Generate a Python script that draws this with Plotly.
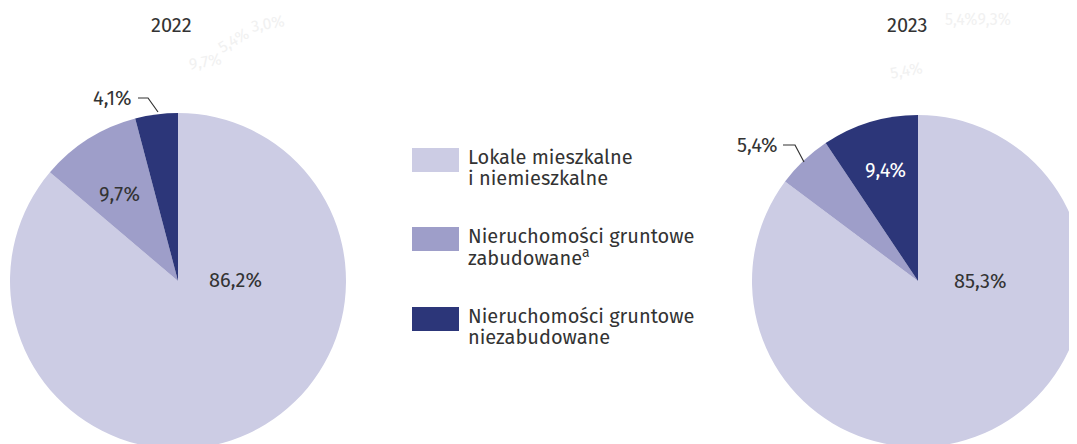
import plotly.graph_objects as go

W, H = 1077, 444
OFF = 8  # the page body has an 8px margin, so shift everything back

categories = ["Lokale mieszkalne i niemieszkalne",
              "Nieruchomości gruntowe zabudowane",
              "Nieruchomości gruntowe niezabudowane"]
legend_lines = [["Lokale mieszkalne", "i niemieszkalne"],
                ["Nieruchomości gruntowe", "zabudowane<sup>a</sup>"],
                ["Nieruchomości gruntowe", "niezabudowane"]]
years = ["2022", "2023"]
values_2022 = [86.2, 9.7, 4.1]
values_2023 = [85.3, 5.4, 9.4]

COLORS = ['#cccce4', '#9e9ec9', '#2c3679']
TEXT = '#333333'
FONT = 'Fira Sans, Noto Sans, sans-serif'


def px(x):
    return (x - OFF) / W


def py(y):
    return 1 - (y - OFF) / H


def fmt(v):
    return ('%.1f' % v).replace('.', ',') + '%'


def pie_domain(cx, cy, r):
    return dict(x=[px(cx - r), px(cx + r)], y=[py(cy + r), py(cy - r)])


fig = go.Figure()
fig.add_trace(go.Pie(labels=categories, values=values_2022, sort=False,
                     direction='clockwise', rotation=0, textinfo='none',
                     marker=dict(colors=COLORS, line=dict(width=0)),
                     domain=pie_domain(178, 281, 168),
                     showlegend=False, hoverinfo='label+percent'))
fig.add_trace(go.Pie(labels=categories, values=values_2023, sort=False,
                     direction='clockwise', rotation=0, textinfo='none',
                     marker=dict(colors=COLORS, line=dict(width=0)),
                     domain=pie_domain(918, 281, 166),
                     showlegend=False, hoverinfo='label+percent'))

annotations = []
shapes = []


def label(text, x, y, color=TEXT, size=20, anchor='center', angle=0):
    annotations.append(dict(text=text, x=px(x), y=py(y), xref='paper', yref='paper',
                            showarrow=False, xanchor=anchor, yanchor='middle',
                            textangle=angle, borderpad=0,
                            font=dict(family=FONT, size=size, color=color)))


# titles
label(years[0], 171, 25)
label(years[1], 907, 25)

# faint ghost labels left over in the source image
for t, x, y, a in [('5,4%', 233, 40, -30), ('3,0%', 268, 24, -10), ('9,7%', 205, 62, -10),
                   ('5,4%9,3%', 978, 20, 0), ('5,4%', 906, 70, -10)]:
    label(t, x, y, color='#f1f1f1', size=16, angle=a)

# slice labels 2022
label(fmt(values_2022[0]), 235, 280)
label(fmt(values_2022[1]), 119, 194)
label(fmt(values_2022[2]), 112, 98)
shapes.append(dict(type='path', xref='paper', yref='paper',
                   path='M %f,%f L %f,%f L %f,%f' % (px(138), py(98), px(148), py(98),
                                                    px(158), py(112)),
                   line=dict(color=TEXT, width=1.2)))

# slice labels 2023
label(fmt(values_2023[0]), 980, 281)
label(fmt(values_2023[2]), 885, 170, color='white')
label(fmt(values_2023[1]), 757, 145)
shapes.append(dict(type='path', xref='paper', yref='paper',
                   path='M %f,%f L %f,%f L %f,%f' % (px(783), py(145), px(795), py(145),
                                                    px(804), py(162)),
                   line=dict(color=TEXT, width=1.2)))

# legend
leg_top = [148, 227, 307]
for i, lines in enumerate(legend_lines):
    y0 = leg_top[i]
    shapes.append(dict(type='rect', xref='paper', yref='paper',
                       x0=px(412), x1=px(459), y0=py(y0), y1=py(y0 + 24),
                       fillcolor=COLORS[i], line=dict(width=0)))
    label(lines[0], 467, y0 + 9, anchor='left')
    label(lines[1], 467, y0 + 30, anchor='left')

fig.update_layout(width=W, height=H, autosize=False,
                  margin=dict(l=0, r=0, t=0, b=0),
                  paper_bgcolor='white', plot_bgcolor='white',
                  annotations=annotations, shapes=shapes)

fig.write_html("out.html")
